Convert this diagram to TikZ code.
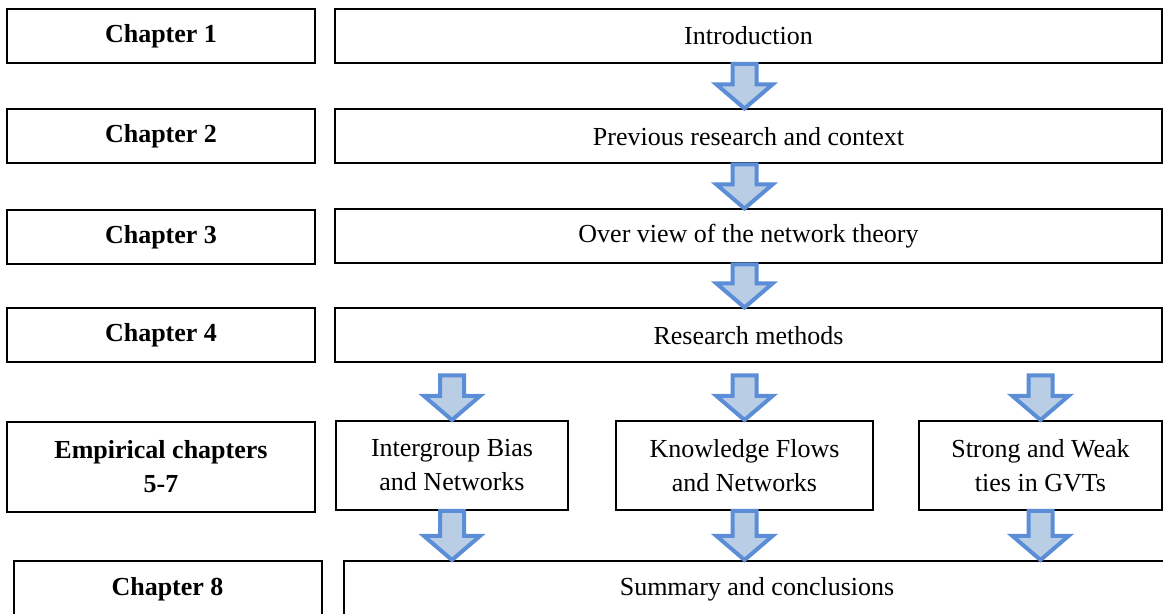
\documentclass[tikz,border=0pt]{standalone}
\usepackage{fontspec}
\setmainfont{Liberation Serif}
\usepackage{tikz}
\usetikzlibrary{positioning, calc}

\definecolor{arrowline}{RGB}{91,142,214}
\definecolor{arrowfill}{RGB}{185,205,229}

% block arrow from the level of #1 down to the tip #2
\newcommand{\flowarrow}[2]{%
  \draw[flow] let \p1=(#1), \p2=(#2) in
    (\x2-6pt,\y1) -- (\x2-6pt,\y2+12pt) -- (\x2-14pt,\y2+12pt) -- (\x2,\y2)
    -- (\x2+14pt,\y2+12pt) -- (\x2+6pt,\y2+12pt) -- (\x2+6pt,\y1) -- cycle;}

\begin{document}
\begin{tikzpicture}[x=0.5pt, y=-0.5pt,
  box/.style={draw, line width=1pt, inner sep=0pt, align=center,
    font=\fontsize{13}{17}\selectfont},
  chapbox/.style={box, minimum width=154pt, minimum height=27pt,
    font=\fontsize{13}{17}\selectfont\bfseries},
  widebox/.style={box, minimum width=413.5pt, minimum height=27pt},
  topicbox/.style={box, minimum height=44.5pt},
  flow/.style={draw=arrowline, fill=arrowfill, line width=2pt, line join=miter}]
\useasboundingbox (0,0) rectangle (1163,614);
\clip (0,0) rectangle (1163,614);

% Chapter labels
\node[chapbox] (ch1) at (161,36) {Chapter 1};
\node[chapbox] (ch2) at (161,136) {Chapter 2};
\node[chapbox] (ch3) at (161,237) {Chapter 3};
\node[chapbox] (ch4) at (161,335.5) {Chapter 4};
\node[chapbox, minimum height=45pt] (emp) at (161,467) {Empirical chapters\\5-7};
\node[chapbox, minimum height=28.5pt] (ch8) at (167.5,589.5) {Chapter 8};

% Contents
\node[widebox] (intro) at (748.5,36) {Introduction};
\node[widebox] (context) at (748.5,136.5) {Previous research and context};
\node[widebox] (theory) at (748.5,236.5) {Over view of the network theory};
\node[widebox] (methods) at (748.5,335.5) {Research methods};
\node[topicbox, minimum width=116pt] (intergroup) at (452,465.5) {Intergroup Bias\\and Networks};
\node[topicbox, minimum width=128.5pt] (knowledge) at (744.5,465.5) {Knowledge Flows\\and Networks};
\node[topicbox, minimum width=121.5pt] (strong) at (1040.5,465.5) {Strong and Weak\\ties in GVTs};
\node[widebox, minimum height=28.5pt] (summary) at (757,589.5) {Summary and conclusions};

% Arrows
\flowarrow{intro.south}{knowledge.north |- context.north}
\flowarrow{context.south}{knowledge.north |- theory.north}
\flowarrow{theory.south}{knowledge.north |- methods.north}
\flowarrow{$(methods.south)+(0,12)$}{intergroup.north}
\flowarrow{$(methods.south)+(0,12)$}{knowledge.north}
\flowarrow{$(methods.south)+(0,12)$}{strong.north}
\flowarrow{intergroup.south}{intergroup.north |- summary.north}
\flowarrow{knowledge.south}{knowledge.north |- summary.north}
\flowarrow{strong.south}{strong.north |- summary.north}
\end{tikzpicture}
\end{document}
